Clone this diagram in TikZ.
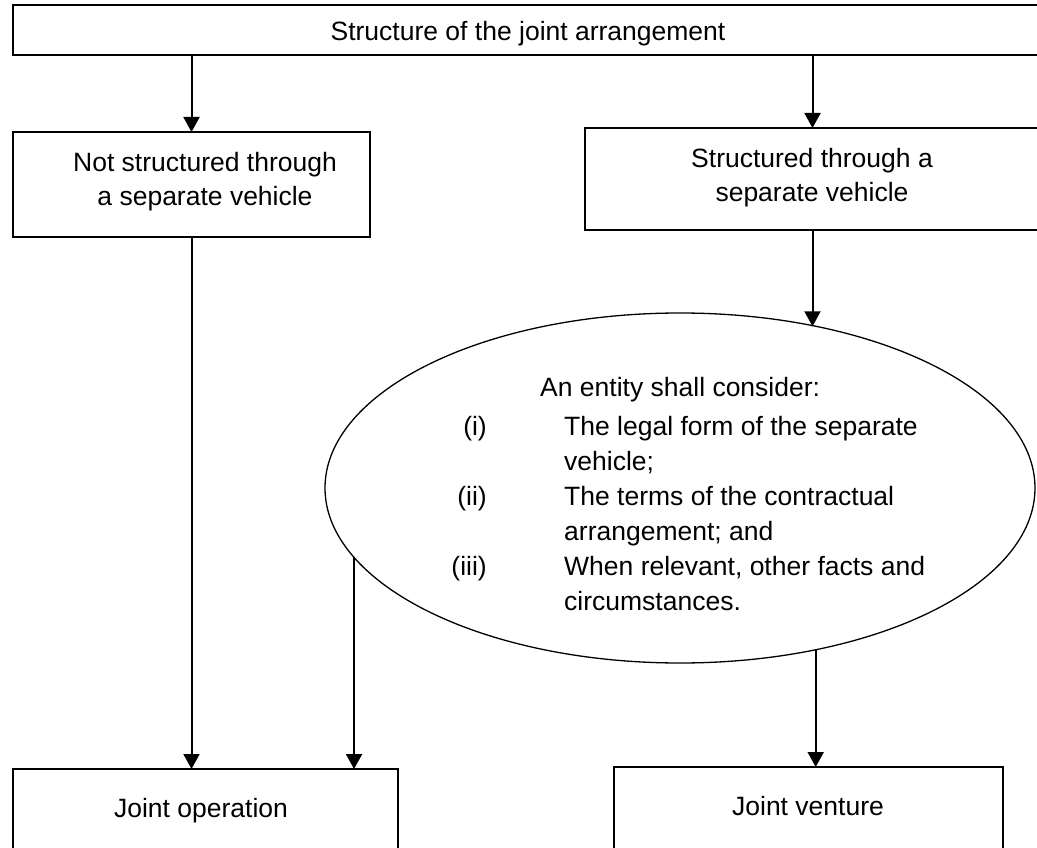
\documentclass[tikz,border=0pt]{standalone}
\usepackage{fontspec}
\setmainfont{Liberation Sans}
\usetikzlibrary{arrows.meta,shapes.geometric}
\begin{document}
\begin{tikzpicture}[x=1pt,y=-1pt,
  box/.style={draw,line width=2pt,rectangle,inner sep=0pt,outer sep=0pt},
  oval/.style={draw,line width=1.3pt,ellipse,inner sep=0pt,outer sep=0pt},
  txt/.style={inner sep=0pt,font=\fontsize{26.5}{32}\selectfont},
  arr/.style={line width=2pt,-{Triangle[length=15pt,width=16pt]}}]
\useasboundingbox (0,0) rectangle (1037,848);
\clip (0,0) rectangle (1037,848);
\fill[white] (0,0) rectangle (1037,848);
% boxes
\node[box,minimum width=1026,minimum height=50] (top) at (526,30) {};
\node[box,minimum width=357,minimum height=105] (nsv) at (191.5,184.5) {};
\node[box,minimum width=455,minimum height=102] (sv) at (812.5,179) {};
\node[oval,minimum width=710,minimum height=350] (ell) at (680,488) {};
\node[box,minimum width=385,minimum height=101] (jo) at (205.5,819.5) {};
\node[box,minimum width=389,minimum height=103] (jv) at (808.5,818.5) {};
% texts
\node[txt,anchor=base] (toptxt) at (528,41) {Structure of the joint arrangement};
\node[txt,anchor=base] (nsv1) at (205,172) {Not structured through};
\node[txt,anchor=base] (nsv2) at (205,206) {a separate vehicle};
\node[txt,anchor=base] (sv1) at (812,168) {Structured through a};
\node[txt,anchor=base] (sv2) at (812,202) {separate vehicle};
\node[txt,anchor=base west] (e0) at (540,396) {An entity shall consider:};
\node[txt,anchor=base east] (n1) at (487,435) {(i)};
\node[txt,anchor=base west] (t1a) at (564,435) {The legal form of the separate};
\node[txt,anchor=base west] (t1b) at (564,470) {vehicle;};
\node[txt,anchor=base east] (n2) at (487,505) {(ii)};
\node[txt,anchor=base west] (t2a) at (564,505) {The terms of the contractual};
\node[txt,anchor=base west] (t2b) at (564,540) {arrangement; and};
\node[txt,anchor=base east] (n3) at (487,575) {(iii)};
\node[txt,anchor=base west] (t3a) at (564,575) {When relevant, other facts and};
\node[txt,anchor=base west] (t3b) at (564,610) {circumstances.};
\node[txt,anchor=base] (jotxt) at (201,817) {Joint operation};
\node[txt,anchor=base] (jvtxt) at (808,815) {Joint venture};
% connectors
\draw[arr] (top.south -| nsv.north) -- (nsv.north);
\draw[arr] (top.south -| sv.north) -- (sv.north);
\draw[arr] (sv.south) -- (sv.south |- ell.50.4);
\draw[arr] (nsv.south) -- (nsv.south |- jo.north);
\draw[arr] (ell.192.4) -- (ell.192.4 |- jo.north);
\draw[arr] (ell.-50.8) -- (ell.-50.8 |- jv.north);
\end{tikzpicture}
\end{document}
